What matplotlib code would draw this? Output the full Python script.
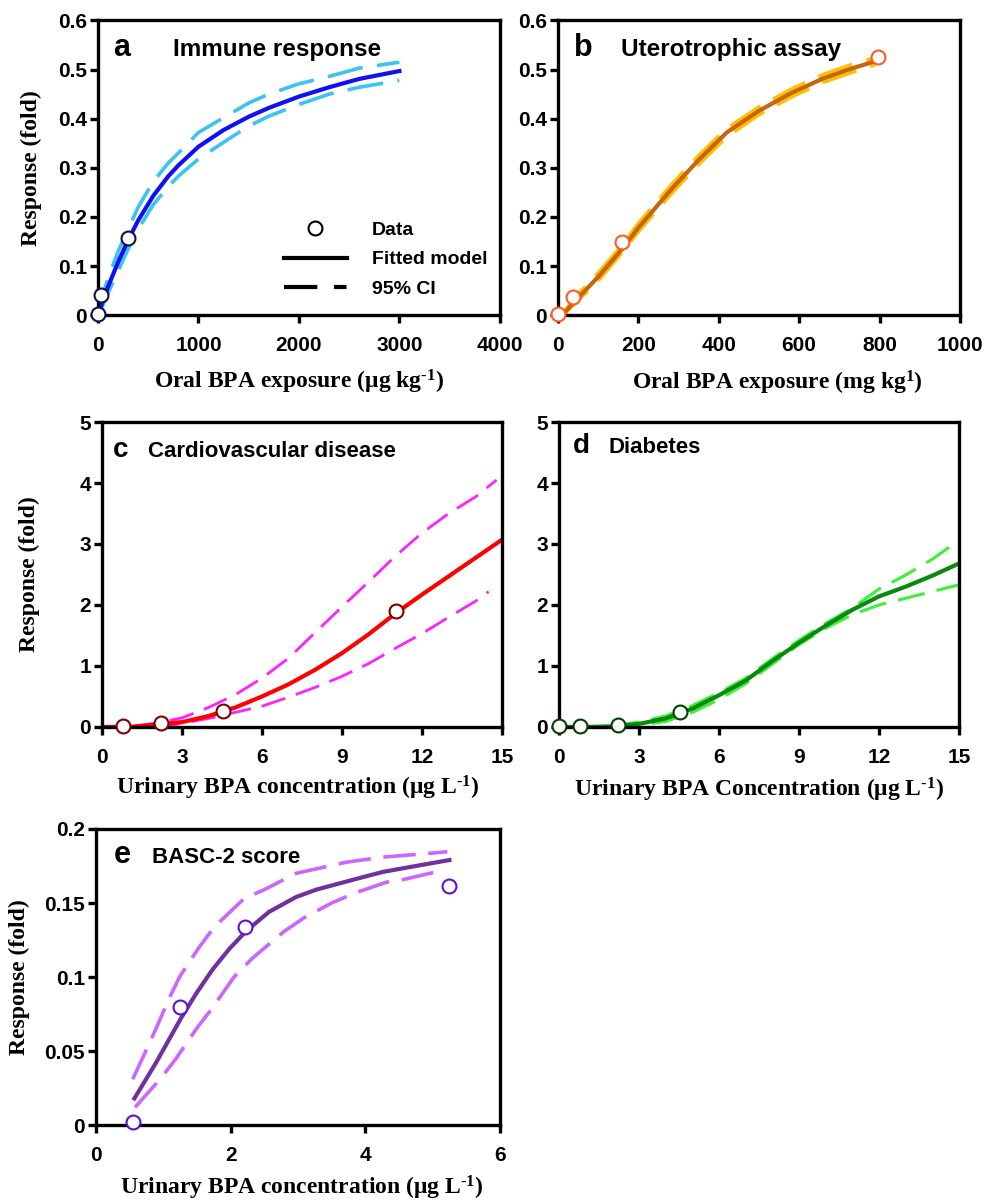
import matplotlib
matplotlib.use('Agg')
import matplotlib.pyplot as plt
from matplotlib.lines import Line2D
from matplotlib.ticker import FuncFormatter

plt.rcParams['font.family'] = 'Liberation Sans'
plt.rcParams['font.weight'] = 'bold'
plt.rcParams['mathtext.fontset'] = 'custom'
plt.rcParams['mathtext.rm'] = 'Liberation Serif:bold'
plt.rcParams['mathtext.default'] = 'rm'

# ---- panel a: immune response
a_pts_x = [0, 30, 300]
a_pts_y = [0.003, 0.042, 0.157]
a_x = [0, 30, 100, 200, 300, 400, 550, 700, 800, 1000, 1250, 1500, 1700, 2000, 2300, 2600, 3000]
a_fit = [0.0, 0.018, 0.058, 0.108, 0.153, 0.193, 0.243, 0.283, 0.305, 0.343, 0.377, 0.404, 0.422, 0.445, 0.464, 0.481, 0.497]
a_up = [0.0, 0.03, 0.075, 0.13, 0.175, 0.22, 0.272, 0.31, 0.33, 0.372, 0.402, 0.432, 0.45, 0.471, 0.486, 0.503, 0.515]
a_lo = [0.0, 0.012, 0.045, 0.09, 0.135, 0.175, 0.225, 0.262, 0.283, 0.318, 0.352, 0.385, 0.405, 0.429, 0.45, 0.464, 0.478]

# ---- panel b: uterotrophic assay
b_pts_x = [0, 37, 160, 797]
b_pts_y = [0.003, 0.037, 0.149, 0.526]
b_x = [10, 50, 100, 160, 200, 285, 350, 420, 500, 580, 660, 730, 790]
b_fit = [0.0, 0.035, 0.078, 0.135, 0.178, 0.259, 0.316, 0.372, 0.416, 0.452, 0.482, 0.502, 0.517]
b_up = [0.002, 0.042, 0.086, 0.143, 0.187, 0.268, 0.325, 0.38, 0.424, 0.46, 0.49, 0.51, 0.524]
b_lo = [-0.002, 0.03, 0.07, 0.128, 0.17, 0.25, 0.307, 0.363, 0.408, 0.444, 0.474, 0.494, 0.51]

# ---- panel c: cardiovascular disease
c_pts_x = [0.79, 2.2, 4.54, 11.04]
c_pts_y = [0.01, 0.065, 0.267, 1.90]
c_x = [0, 1, 2, 3, 4, 5, 6, 7, 8, 9, 10, 11, 12, 13, 14, 15]
c_fit = [0.0, 0.0, 0.04, 0.08, 0.18, 0.32, 0.50, 0.70, 0.94, 1.21, 1.52, 1.86, 2.17, 2.47, 2.77, 3.07]
c_up_x = [1.2, 2, 3, 4, 5, 6, 7, 8, 9, 10, 11, 12, 13, 14, 14.8]
c_up = [0.01, 0.06, 0.15, 0.32, 0.53, 0.80, 1.13, 1.55, 1.97, 2.38, 2.80, 3.18, 3.50, 3.77, 4.05]
c_lo_x = [2.0, 2.5, 3, 4, 5, 6, 7, 8, 9, 10, 11, 12, 13, 14, 14.5]
c_lo = [0.0, 0.02, 0.06, 0.14, 0.24, 0.34, 0.49, 0.65, 0.83, 1.04, 1.29, 1.53, 1.80, 2.06, 2.22]

# ---- panel d: diabetes
d_pts_x = [0, 0.78, 2.21, 4.55]
d_pts_y = [0.01, 0.01, 0.04, 0.24]
d_x = [0, 1, 2, 3, 4, 5, 6, 7, 8, 9, 10, 11, 12, 13, 14, 15]
d_fit = [0.0, 0.0, 0.01, 0.05, 0.14, 0.30, 0.52, 0.76, 1.08, 1.38, 1.66, 1.92, 2.14, 2.30, 2.48, 2.68]
d_ci_x = [2, 3, 4, 5, 6, 7, 8, 9, 10, 11, 12, 13, 14, 15]
d_up = [0.02, 0.08, 0.18, 0.35, 0.56, 0.80, 1.12, 1.42, 1.70, 1.95, 2.26, 2.49, 2.75, 3.06]
d_lo = [0.0, 0.03, 0.09, 0.24, 0.45, 0.71, 1.03, 1.35, 1.62, 1.84, 2.00, 2.11, 2.22, 2.33]

# ---- panel e: BASC-2 score
e_pts_x = [0.545, 1.25, 2.21, 5.24]
e_pts_y = [0.0018, 0.080, 0.134, 0.1617]
e_x = [0.57, 0.89, 1.26, 1.49, 1.73, 1.98, 2.23, 2.57, 2.97, 3.27, 3.76, 4.26, 4.75, 5.25]
e_fit = [0.018, 0.042, 0.072, 0.089, 0.105, 0.119, 0.131, 0.144, 0.154, 0.159, 0.165, 0.171, 0.175, 0.179]
e_up_x = [0.545, 0.77, 0.9, 1.08, 1.24, 1.53, 1.76, 2.2, 2.5, 2.97, 3.71, 4.26, 4.95, 5.22]
e_up = [0.031, 0.053, 0.066, 0.085, 0.100, 0.120, 0.134, 0.153, 0.159, 0.170, 0.1775, 0.181, 0.1835, 0.1847]
e_lo_x = [0.58, 0.97, 1.19, 1.49, 1.71, 2.05, 2.33, 2.8, 3.09, 3.5, 3.86, 4.31, 4.58, 5.05]
e_lo = [0.012, 0.032, 0.045, 0.065, 0.078, 0.100, 0.113, 0.131, 0.140, 0.150, 0.157, 0.164, 0.166, 0.171]

fig = plt.figure(figsize=(9.85, 12.03), dpi=100)

fmt = FuncFormatter(lambda v, p: '%g' % round(v, 4))
HY = '\u2010'


def setup(ax, xlim, xticks, ylim, yticks):
    ax.set_xlim(xlim)
    ax.set_ylim(ylim)
    ax.set_xticks(xticks)
    ax.set_yticks(yticks)
    ax.xaxis.set_major_formatter(fmt)
    ax.yaxis.set_major_formatter(fmt)
    for s in ax.spines.values():
        s.set_linewidth(2.4)
    ax.tick_params(direction='out', length=6, width=2.4, labelsize=15)
    ax.tick_params(axis='x', pad=9)
    ax.tick_params(axis='y', pad=2)


def panel(ax, letter, title, lx, tx, ty, lsize, tsize):
    ax.text(lx, ty, letter, transform=ax.transAxes, fontsize=lsize,
            fontweight='bold', va='baseline')
    ax.text(tx, ty, title, transform=ax.transAxes, fontsize=tsize,
            fontweight='bold', va='baseline')


def xlab(ax, text, x, y, size=17):
    ax.set_xlabel(text, family='Liberation Serif', fontsize=size, fontweight='bold')
    ax.xaxis.set_label_coords(x, y)


def ylab(ax, x):
    ax.set_ylabel('Response (fold)', family='Liberation Serif', fontsize=17, fontweight='bold')
    ax.yaxis.set_label_coords(x, 0.5)


def dots(ax, x, y, edge):
    ax.plot(x, y, 'o', ms=10, mfc='white', mec=edge, mew=1.5, clip_on=False, zorder=5)


# a
ax = fig.add_axes([0.0995, 0.738, 0.408, 0.245])
ax.plot(a_x, a_up, color='#3DC3F0', lw=2.6, dashes=(10, 4))
ax.plot(a_x, a_lo, color='#3DC3F0', lw=2.6, dashes=(10, 4))
ax.plot(a_x, a_fit, color='#1010F0', lw=3)
dots(ax, a_pts_x, a_pts_y, '#10104A')
setup(ax, (0, 4000), [0, 1000, 2000, 3000, 4000], (0, 0.6), [0, 0.1, 0.2, 0.3, 0.4, 0.5, 0.6])
panel(ax, 'a', 'Immune response', 0.037, 0.187, 0.88, 22, 17.5)
xlab(ax, 'Oral BPA exposure (μg kg$^{' + HY + '1}$)', 0.5, -0.18)
ylab(ax, -0.139)
handles = [Line2D([], [], ls='none', marker='o', ms=10, mfc='white', mec='black', mew=1.5),
           Line2D([], [], color='black', lw=3),
           Line2D([], [], color='black', lw=3, dashes=(8, 4, 3, 4))]
ax.legend(handles, ['Data', 'Fitted model', '95% CI'], loc='lower left',
          bbox_to_anchor=(0.42, 0.0), frameon=False, fontsize=14,
          handlelength=3.2, handletextpad=1.3, labelspacing=0.6)

# b
ax = fig.add_axes([0.5665, 0.738, 0.408, 0.245])
ax.plot(b_x, b_up, color='#FFC000', lw=2.6, dashes=(10, 4))
ax.plot(b_x, b_lo, color='#FFC000', lw=2.6, dashes=(10, 4))
ax.plot(b_x, b_fit, color='#C8640A', lw=3)
dots(ax, b_pts_x, b_pts_y, '#FF5A1F')
setup(ax, (0, 1000), [0, 200, 400, 600, 800, 1000], (0, 0.6), [0, 0.1, 0.2, 0.3, 0.4, 0.5, 0.6])
panel(ax, 'b', 'Uterotrophic assay', 0.04, 0.157, 0.88, 22, 17.5)
xlab(ax, 'Oral BPA exposure (mg kg$^{1}$)', 0.545, -0.183)

# c
ax = fig.add_axes([0.1036, 0.3957, 0.406, 0.2535])
ax.plot(c_up_x, c_up, color='#FF22FF', lw=2, dashes=(9, 4))
ax.plot(c_lo_x, c_lo, color='#FF22FF', lw=2, dashes=(9, 4))
ax.plot(c_x, c_fit, color='#FF0000', lw=3)
dots(ax, c_pts_x, c_pts_y, '#800000')
setup(ax, (0, 15), [0, 3, 6, 9, 12, 15], (0, 5), [0, 1, 2, 3, 4, 5])
panel(ax, 'c', 'Cardiovascular disease', 0.028, 0.116, 0.885, 20, 16)
xlab(ax, 'Urinary BPA concentration (μg L$^{' + HY + '1}$)', 0.49, -0.155)
ylab(ax, -0.155)

# d
ax = fig.add_axes([0.5675, 0.3957, 0.406, 0.2535])
ax.plot(d_ci_x, d_up, color='#3CF03C', lw=2.2, dashes=(9, 4))
ax.plot(d_ci_x, d_lo, color='#3CF03C', lw=2.2, dashes=(9, 4))
ax.plot(d_x, d_fit, color='#0A8A0A', lw=3)
dots(ax, d_pts_x, d_pts_y, '#004000')
setup(ax, (0, 15), [0, 3, 6, 9, 12, 15], (0, 5), [0, 1, 2, 3, 4, 5])
panel(ax, 'd', 'Diabetes', 0.035, 0.125, 0.90, 20, 16)
xlab(ax, 'Urinary BPA Concentration (μg L$^{' + HY + '1}$)', 0.50, -0.16)

# e
ax = fig.add_axes([0.0975, 0.0648, 0.41, 0.2461])
ax.plot(e_up_x, e_up, color='#CC66FF', lw=2.6, dashes=(9, 3.5))
ax.plot(e_lo_x, e_lo, color='#CC66FF', lw=2.6, dashes=(9, 3.5))
ax.plot(e_x, e_fit, color='#7030A0', lw=3)
dots(ax, e_pts_x, e_pts_y, '#6010D0')
setup(ax, (0, 6), [0, 2, 4, 6], (0, 0.2), [0, 0.05, 0.1, 0.15, 0.2])
panel(ax, 'e', 'BASC-2 score', 0.045, 0.139, 0.885, 22, 16)
xlab(ax, 'Urinary BPA concentration (μg L$^{' + HY + '1}$)', 0.51, -0.165)
ylab(ax, -0.163)

fig.savefig('out.png', dpi=100)
